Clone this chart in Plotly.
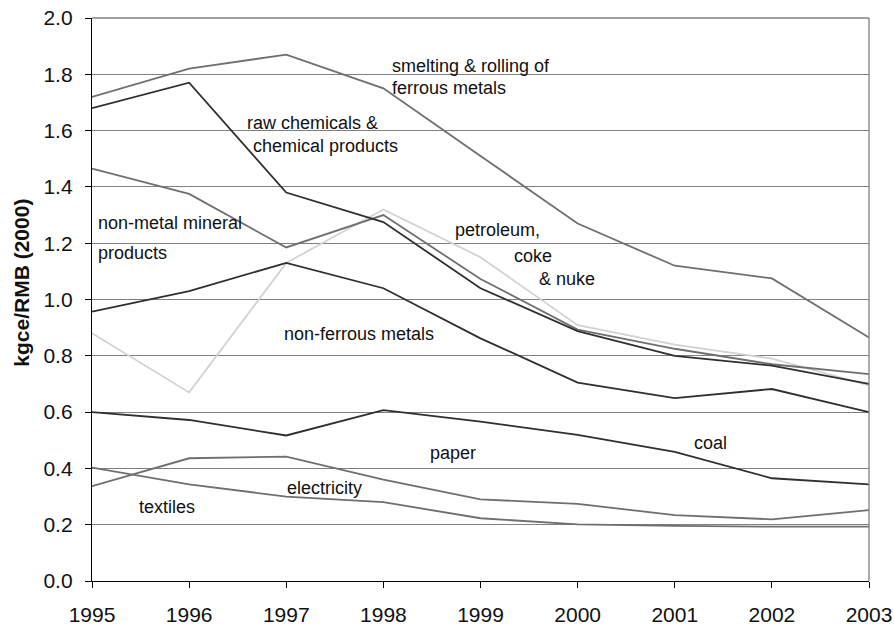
import plotly.graph_objects as go

years = [1995, 1996, 1997, 1998, 1999, 2000, 2001, 2002, 2003]

smelting = [1.72, 1.82, 1.87, 1.75, 1.51, 1.27, 1.12, 1.075, 0.865]
raw_chemicals = [1.68, 1.77, 1.38, 1.275, 1.04, 0.888, 0.80, 0.765, 0.70]
non_metal = [1.465, 1.375, 1.185, 1.30, 1.073, 0.893, 0.825, 0.77, 0.735]
petroleum = [0.88, 0.67, 1.13, 1.32, 1.15, 0.909, 0.84, 0.79, 0.695]
non_ferrous = [0.957, 1.03, 1.13, 1.04, 0.862, 0.705, 0.65, 0.682, 0.60]
coal = [0.60, 0.572, 0.517, 0.607, 0.566, 0.519, 0.459, 0.365, 0.343]
electricity = [0.337, 0.436, 0.442, 0.36, 0.29, 0.274, 0.234, 0.219, 0.252]
textiles = [0.403, 0.343, 0.30, 0.28, 0.223, 0.201, 0.196, 0.193, 0.193]

y_ticks = [0.0, 0.2, 0.4, 0.6, 0.8, 1.0, 1.2, 1.4, 1.6, 1.8, 2.0]
y_title = "kgce/RMB (2000)"

DARK = "#2f2f2f"
GRAY = "#6f6f6f"
LIGHT = "#d2d2d2"
FONT = "Liberation Sans, Arial"

series = [
    ("textiles", textiles, GRAY),
    ("electricity", electricity, GRAY),
    ("coal", coal, DARK),
    ("petroleum", petroleum, LIGHT),
    ("non-metal", non_metal, GRAY),
    ("non-ferrous", non_ferrous, DARK),
    ("raw chemicals", raw_chemicals, DARK),
    ("smelting", smelting, GRAY),
]

# label text, x (data), y (data) -- left-anchored
labels = [
    ("smelting & rolling of", 1998.07, 1.829),
    ("ferrous metals", 1998.07, 1.750),
    ("raw chemicals &", 1996.58, 1.628),
    ("chemical products", 1996.635, 1.545),
    ("non-metal mineral", 1995.045, 1.273),
    ("products", 1995.045, 1.166),
    ("petroleum,", 1998.717, 1.247),
    ("coke", 1999.325, 1.155),
    ("& nuke", 1999.585, 1.072),
    ("non-ferrous metals", 1996.957, 0.877),
    ("paper", 1998.46, 0.454),
    ("coal", 2001.18, 0.489),
    ("electricity", 1996.985, 0.331),
    ("textiles", 1995.464, 0.264),
]

fig = go.Figure()
for name, vals, col in series:
    fig.add_trace(go.Scatter(x=years, y=vals, mode="lines", name=name,
                             line=dict(color=col, width=1.8), showlegend=False,
                             hoverinfo="skip"))

for text, x, y in labels:
    fig.add_annotation(x=x, y=y, xref="x", yref="y", text=text, showarrow=False,
                       xanchor="left", yanchor="middle",
                       font=dict(family=FONT, size=18, color="#111111"))

# y-axis title (rotated text)
fig.add_annotation(x=-0.09, y=0.53, xref="paper", yref="paper", text="<b>" + y_title + "</b>",
                   textangle=-90, showarrow=False, xanchor="center", yanchor="middle",
                   font=dict(family=FONT, size=21, color="#111111"))

# plot area border: top and right in gray
fig.add_shape(type="line", xref="paper", yref="paper", x0=0, y0=1, x1=1, y1=1,
              line=dict(color="#808080", width=1.3), layer="above")
fig.add_shape(type="line", xref="paper", yref="paper", x0=1, y0=0, x1=1, y1=1,
              line=dict(color="#808080", width=1.3), layer="above")

fig.update_layout(
    width=894, height=628,
    margin=dict(l=92, r=25, t=18, b=47),
    paper_bgcolor="white", plot_bgcolor="white",
    font=dict(family=FONT, color="#111111"),
    xaxis=dict(range=[1995, 2003], tickvals=years, ticktext=[str(y) for y in years],
               automargin=False, ticklabeloverflow="allow",
               showgrid=False, zeroline=False, showline=True, linecolor="black", linewidth=1.3,
               ticks="outside", ticklen=6, tickcolor="black", tickwidth=1.2,
               tickfont=dict(size=21, family=FONT, color="#111111"),
               ticklabelstandoff=9),
    yaxis=dict(range=[0, 2.0], tickvals=y_ticks, ticktext=[f"{v:.1f}" for v in y_ticks],
               automargin=False, ticklabeloverflow="allow",
               showgrid=True, gridcolor="#808080", gridwidth=1.3, zeroline=False,
               showline=True, linecolor="black", linewidth=1.3,
               ticks="outside", ticklen=6, tickcolor="black", tickwidth=1.2,
               tickfont=dict(size=21, family=FONT, color="#111111"),
               ticklabelstandoff=8),
)

# remove the default 8px page margin so the figure fills the window exactly
fig.write_html("out.html", config={"displayModeBar": False},
               post_script="document.body.style.margin='0';document.body.style.overflow='hidden';")
